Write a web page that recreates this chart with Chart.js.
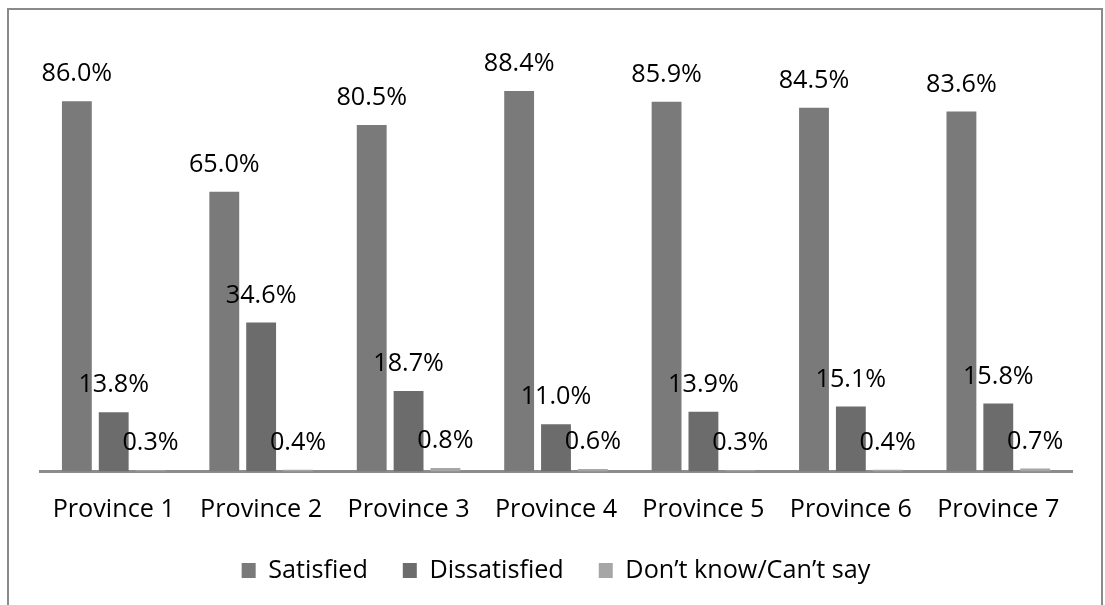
<!DOCTYPE html>
<html>
<head>
<meta charset="utf-8">
<script src="https://cdn.jsdelivr.net/npm/chart.js@4/dist/chart.umd.min.js"></script>
<style>
    html, body { margin: 0; padding: 0; background: #fff; overflow: hidden; }
    #frame { position: absolute; left: 7px; top: 8px; width: 1092px; height: 640px; border: 2px solid #8a8a8a; }
    #wrap { position: absolute; left: 0; top: 0; width: 1105px; height: 605px; }
</style>
</head>
<body>
<div id="frame"></div>
<div id="wrap"><canvas id="chart"></canvas></div>
<script>
const provinces = ['Province 1', 'Province 2', 'Province 3', 'Province 4', 'Province 5', 'Province 6', 'Province 7'];
const satisfied = [86.0, 65.0, 80.5, 88.4, 85.9, 84.5, 83.6];
const dissatisfied = [13.8, 34.6, 18.7, 11.0, 13.9, 15.1, 15.8];
const dontKnow = [0.3, 0.4, 0.8, 0.6, 0.3, 0.4, 0.7];

const FONT = '"Open Sans", "Noto Sans", sans-serif';
const FONT_SIZE = 25.2;

// value labels above each bar
const barLabels = {
    id: 'barLabels',
    afterDatasetsDraw(chart) {
        const ctx = chart.ctx;
        ctx.save();
        ctx.font = `${FONT_SIZE}px ${FONT}`;
        ctx.fillStyle = '#000';
        ctx.textAlign = 'center';
        ctx.textBaseline = 'alphabetic';
        chart.data.datasets.forEach((ds, i) => {
            const meta = chart.getDatasetMeta(i);
            meta.data.forEach((bar, j) => {
                ctx.fillText(ds.data[j].toFixed(1) + '%', bar.x, bar.y - 20);
            });
        });
        ctx.restore();
    }
};

new Chart(document.getElementById('chart'), {
    type: 'bar',
    data: {
        labels: provinces,
        datasets: [
            { label: 'Satisfied', data: satisfied, backgroundColor: '#7a7a7a' },
            { label: 'Dissatisfied', data: dissatisfied, backgroundColor: '#6c6c6c' },
            { label: 'Don\u2019t know/Can\u2019t say', data: dontKnow, backgroundColor: '#a6a6a6' }
        ]
    },
    options: {
        responsive: true,
        maintainAspectRatio: false,
        animation: false,
        datasets: {
            bar: { categoryPercentage: 0.75, barPercentage: 0.81 }
        },
        layout: { padding: { left: 40, right: 33, top: 41, bottom: 12 } },
        scales: {
            x: {
                grid: { display: false },
                border: { display: true, color: '#8c8c8c', width: 3 },
                ticks: { color: '#000', font: { family: FONT, size: FONT_SIZE }, padding: 15, maxRotation: 0 },
                afterFit: (scale) => { scale.height -= 17; }
            },
            y: { display: false, min: 0, max: 100 }
        },
        plugins: {
            legend: {
                position: 'bottom',
                labels: {
                    color: '#000',
                    font: { family: FONT, size: FONT_SIZE },
                    boxWidth: 14,
                    boxHeight: 15,
                    padding: 35
                }
            },
            tooltip: { enabled: false }
        }
    },
    plugins: [barLabels]
});
</script>
</body>
</html>
